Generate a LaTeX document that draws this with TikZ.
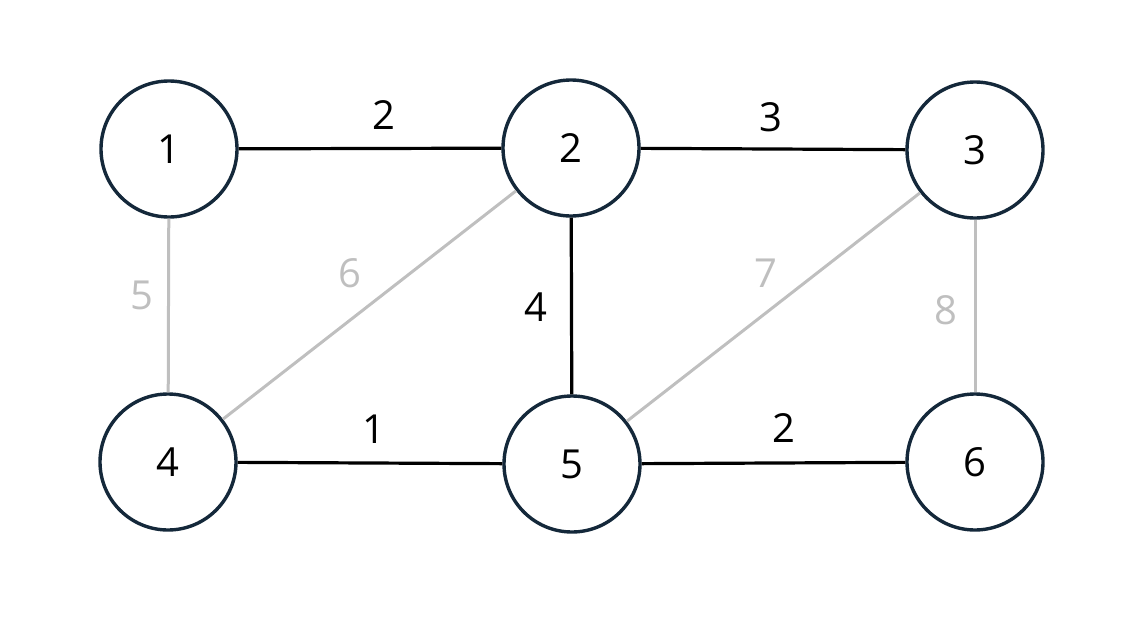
\documentclass[tikz,border=0pt]{standalone}
\usepackage{fontspec}
\setmainfont{Open Sans}
\definecolor{ring}{HTML}{14283A}
\definecolor{lite}{HTML}{BFBFBF}
\begin{document}
\begin{tikzpicture}[x=1pt,y=-1pt,
  vert/.style={circle,draw=ring,line width=3.4pt,minimum size=136pt,inner sep=0pt,font=\fontsize{40}{40}\selectfont},
  dark/.style={draw=black,line width=3.2pt},
  pale/.style={draw=lite,line width=3pt},
  wlab/.style={font=\fontsize{40}{40}\selectfont,inner sep=0pt},
  wdark/.style={wlab,text=black},
  wpale/.style={wlab,text=lite}]
\useasboundingbox (0,0) rectangle (1130,616);
\node[vert] (n1) at (169,149) {1};
\node[vert] (n2) at (571,148) {2};
\node[vert] (n3) at (975,150) {3};
\node[vert] (n4) at (168,462) {4};
\node[vert] (n5) at (572,464) {5};
\node[vert] (n6) at (975,462) {6};
\draw[pale] (n1) -- (n4);
\draw[pale] (n2) -- (n4);
\draw[pale] (n3) -- (n5);
\draw[pale] (n3) -- (n6);
\draw[dark] (n1) -- (n2);
\draw[dark] (n2) -- (n3);
\draw[dark] (n2) -- (n5);
\draw[dark] (n4) -- (n5);
\draw[dark] (n5) -- (n6);
\node[wdark] (l12) at (384,115) {2};
\node[wdark] (l23) at (771,117) {3};
\node[wpale] (l14) at (142,295) {5};
\node[wpale] (l24) at (350,273) {6};
\node[wdark] (l25) at (536,307) {4};
\node[wpale] (l35) at (766,273) {7};
\node[wpale] (l36) at (946,310) {8};
\node[wdark] (l45) at (374,429) {1};
\node[wdark] (l56) at (784,428) {2};
\end{tikzpicture}
\end{document}
